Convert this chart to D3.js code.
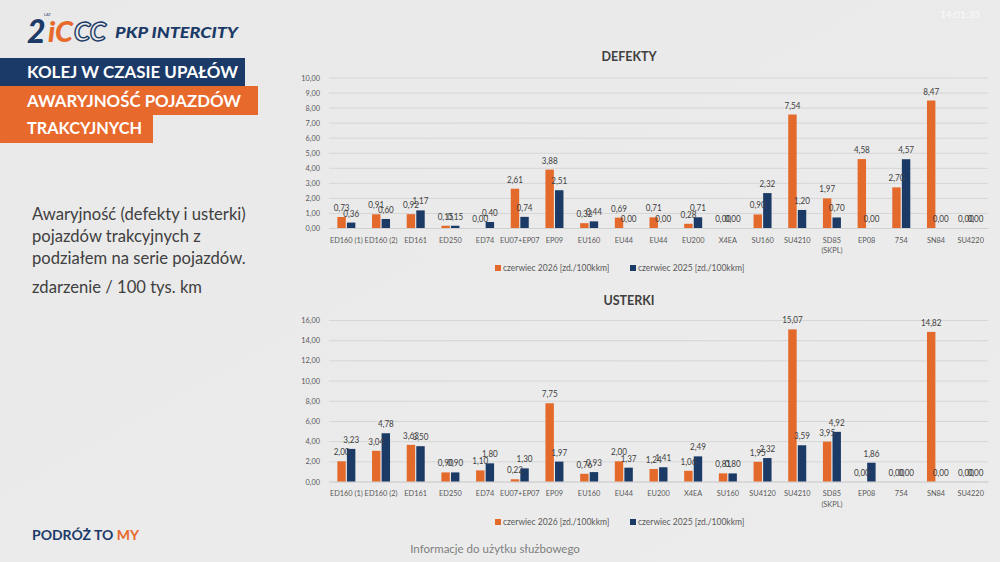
<!DOCTYPE html>
<html>
<head>
<meta charset="utf-8">
<script src="https://cdn.jsdelivr.net/npm/d3@7"></script>
<style>
  html, body { margin: 0; padding: 0; background: #ebebeb; }
  svg { display: block; font-family: Lato, 'Open Sans', sans-serif; }
</style>
</head>
<body>
<svg id="slide"></svg>
<script>
// DATA
const defektyCategories = ['ED160 (1)', 'ED160 (2)', 'ED161', 'ED250', 'ED74', 'EU07+EP07', 'EP09', 'EU160', 'EU44', 'EU44', 'EU200', 'X4EA', 'SU160', 'SU4210', 'SD85 (SKPL)', 'EP08', '754', 'SN84', 'SU4220']
const defekty2026 = [0.73, 0.91, 0.92, 0.15, 0.00, 2.61, 3.88, 0.32, 0.69, 0.71, 0.28, 0.00, 0.90, 7.54, 1.97, 4.58, 2.70, 8.47, 0.00]
const defekty2025 = [0.36, 0.60, 1.17, 0.15, 0.40, 0.74, 2.51, 0.44, 0.00, 0.00, 0.71, 0.00, 2.32, 1.20, 0.70, 0.00, 4.57, 0.00, 0.00]
const defektyTicks = [0, 1, 2, 3, 4, 5, 6, 7, 8, 9, 10]

const usterkiCategories = ['ED160 (1)', 'ED160 (2)', 'ED161', 'ED250', 'ED74', 'EU07+EP07', 'EP09', 'EU160', 'EU44', 'EU200', 'X4EA', 'SU160', 'SU4120', 'SU4210', 'SD85 (SKPL)', 'EP08', '754', 'SN84', 'SU4220']
const usterki2026 = [2.00, 3.04, 3.63, 0.90, 1.10, 0.22, 7.75, 0.76, 2.00, 1.24, 1.06, 0.81, 1.95, 15.07, 3.95, 0.00, 0.00, 14.82, 0.00]
const usterki2025 = [3.23, 4.78, 3.50, 0.90, 1.80, 1.30, 1.97, 0.93, 1.37, 1.41, 2.49, 0.80, 2.32, 3.59, 4.92, 1.86, 0.00, 0.00, 0.00]
const usterkiTicks = [0, 2, 4, 6, 8, 10, 12, 14, 16]

const seriesNames = ['czerwiec 2026 [zd./100kkm]', 'czerwiec 2025 [zd./100kkm]']
const seriesColors = ['#e46a2c', '#1c3a66']

const W = 1000
const H = 562
const svg = d3.select('#slide').attr('width', W).attr('height', H)

const pl = d3.formatLocale({ decimal: ',', thousands: ' ', grouping: [3], currency: ['', ' zł'] })
const fmt = pl.format('.2f')

// BACKGROUND
const grad = svg.append('defs').append('linearGradient')
  .attr('id', 'bg').attr('x1', 0).attr('y1', 0).attr('x2', 1).attr('y2', 1)
grad.append('stop').attr('offset', 0).attr('stop-color', '#e9e9e9')
grad.append('stop').attr('offset', 1).attr('stop-color', '#ececec')
svg.append('rect').attr('width', W).attr('height', H).attr('fill', 'url(#bg)')

// LEFT PANEL
const navy = '#1c3a68'
const orange = '#e8692c'

const logo = svg.append('g')
logo.append('text').attr('x', 27).attr('y', 43)
  .attr('font-size', 32).attr('font-weight', 900).attr('font-style', 'italic')
  .attr('fill', navy).text('2')
logo.append('text').attr('x', 44).attr('y', 16)
  .attr('font-size', 4).attr('fill', navy).text('LAT')
logo.append('text').attr('x', 48).attr('y', 42)
  .attr('font-size', 29).attr('font-weight', 900).attr('font-style', 'italic')
  .attr('fill', orange).text('iC')
logo.append('text').attr('x', 74).attr('y', 41)
  .attr('font-size', 26).attr('font-weight', 900).attr('font-style', 'italic')
  .attr('fill', 'none').attr('stroke', navy).attr('stroke-width', 1.4).text('CC')
logo.append('text').attr('x', 115).attr('y', 38)
  .attr('font-size', 14.5).attr('font-weight', 900).attr('font-style', 'italic')
  .attr('fill', navy).attr('textLength', 123).attr('lengthAdjust', 'spacingAndGlyphs')
  .text('PKP INTERCITY')

svg.append('rect').attr('x', 0).attr('y', 58).attr('width', 245).attr('height', 28).attr('fill', navy)
svg.append('rect').attr('x', 0).attr('y', 86).attr('width', 258).attr('height', 29).attr('fill', orange)
svg.append('rect').attr('x', 0).attr('y', 115).attr('width', 153).attr('height', 28).attr('fill', orange)

const banner = [
  { t: 'KOLEJ W CZASIE UPAŁÓW', y: 78, w: 211 },
  { t: 'AWARYJNOŚĆ POJAZDÓW', y: 107, w: 214 },
  { t: 'TRAKCYJNYCH', y: 134, w: 115 }
]
svg.selectAll('.banner').data(banner).enter().append('text')
  .attr('class', 'banner')
  .attr('x', 27).attr('y', d => d.y)
  .attr('font-size', 17).attr('font-weight', 700).attr('fill', '#fff')
  .attr('textLength', d => d.w).attr('lengthAdjust', 'spacingAndGlyphs')
  .text(d => d.t)

const desc = [
  { t: 'Awaryjność (defekty i usterki)', y: 220 },
  { t: 'pojazdów trakcyjnych z', y: 242 },
  { t: 'podziałem na serie pojazdów.', y: 264 },
  { t: 'zdarzenie / 100 tys. km', y: 293 }
]
svg.selectAll('.desc').data(desc).enter().append('text')
  .attr('class', 'desc')
  .attr('x', 32).attr('y', d => d.y)
  .attr('font-size', 16.6).attr('fill', '#404040')
  .text(d => d.t)

const foot = svg.append('text').attr('x', 32).attr('y', 540)
  .attr('font-size', 14).attr('font-weight', 700).attr('fill', navy)
foot.append('tspan').text('PODRÓŻ TO ')
foot.append('tspan').attr('fill', orange).text('MY')

svg.append('text').attr('x', 495).attr('y', 553).attr('text-anchor', 'middle')
  .attr('font-size', 11.5).attr('fill', '#7f7f7f').text('Informacje do użytku służbowego')

svg.append('text').attr('x', 980).attr('y', 18).attr('text-anchor', 'end')
  .attr('font-size', 10).attr('fill', '#fafafa').text('14:01:35')

// CHARTS
function drawChart ({ categories, values, ticks, yTop, yBottom, title, titleY, legendY }) {
  const g = svg.append('g')
  const x0 = 329
  const x1 = 988
  const idx = categories.map((_, i) => i)

  const x = d3.scaleBand().domain(idx).range([x0, x1])
  const xs = d3.scaleBand().domain([0, 1]).range([0, 18]).paddingInner(0.12)
  const y = d3.scaleLinear().domain([0, d3.max(ticks)]).range([yBottom, yTop])

  // title
  g.append('text').attr('x', 629).attr('y', titleY).attr('text-anchor', 'middle')
    .attr('font-size', 12.5).attr('font-weight', 700).attr('fill', '#404040').text(title)

  // grid + y labels
  const yAxis = g.append('g').attr('transform', `translate(${x0},0)`)
    .call(d3.axisLeft(y).tickValues(ticks).tickSize(-(x1 - x0)).tickPadding(9).tickFormat(fmt))
  yAxis.select('.domain').remove()
  yAxis.selectAll('line').attr('stroke', '#d6d6d6').attr('stroke-width', 1)
  yAxis.selectAll('text').attr('font-size', 8).attr('fill', '#595959')
    .attr('font-family', 'Lato, sans-serif')
    .attr('transform', 'translate(-9,0) scale(0.92,1) translate(9,0)')

  // x labels
  const xAxis = g.append('g').attr('transform', `translate(0,${yBottom})`)
    .call(d3.axisBottom(x).tickSize(0).tickPadding(9).tickFormat(() => ''))
  xAxis.select('.domain').attr('stroke', '#d0d0d0')
  xAxis.selectAll('.tick text').each(function (i) {
    const t = d3.select(this).attr('font-size', 8.2).attr('fill', '#595959')
      .attr('font-family', 'Lato, sans-serif')
      .attr('transform', 'scale(0.9,1)')
    const parts = categories[i].split(' (SKPL)')
    t.append('tspan').attr('x', 0).text(parts[0])
    if (parts.length > 1) t.append('tspan').attr('x', 0).attr('dy', '1.25em').text('(SKPL)')
  })

  // bars
  const groups = g.selectAll('.grp').data(idx).enter().append('g')
    .attr('class', 'grp')
    .attr('transform', i => `translate(${x(i) + (x.bandwidth() - 18) / 2},0)`)
  groups.selectAll('rect').data(i => values.map((s, k) => ({ k, v: s[i] }))).enter()
    .append('rect')
    .attr('x', d => xs(d.k))
    .attr('width', xs.bandwidth())
    .attr('y', d => y(d.v))
    .attr('height', d => yBottom - y(d.v))
    .attr('fill', d => seriesColors[d.k])
  groups.selectAll('text').data(i => values.map((s, k) => ({ k, v: s[i] }))).enter()
    .append('text')
    .attr('transform', d => `translate(${xs(d.k) + xs.bandwidth() / 2},${y(d.v) - 6}) scale(0.95,1)`)
    .attr('text-anchor', 'middle')
    .attr('font-size', 8.5).attr('fill', '#404040')
    .text(d => fmt(d.v))

  // legend
  const legendX = [495, 630]
  const leg = g.selectAll('.leg').data(seriesNames).enter().append('g')
    .attr('class', 'leg')
    .attr('transform', (_, k) => `translate(${legendX[k]},${legendY})`)
  leg.append('rect').attr('x', 0).attr('y', -3).attr('width', 6).attr('height', 6)
    .attr('fill', (_, k) => seriesColors[k])
  leg.append('text').attr('x', 8).attr('y', 3.2)
    .attr('font-size', 8.5).attr('fill', '#595959').text(d => d)
}

drawChart({
  categories: defektyCategories,
  values: [defekty2026, defekty2025],
  ticks: defektyTicks,
  yTop: 77.5,
  yBottom: 228,
  title: 'DEFEKTY',
  titleY: 61,
  legendY: 268
})

drawChart({
  categories: usterkiCategories,
  values: [usterki2026, usterki2025],
  ticks: usterkiTicks,
  yTop: 320,
  yBottom: 481.5,
  title: 'USTERKI',
  titleY: 305,
  legendY: 522
})
</script>
</body>
</html>
